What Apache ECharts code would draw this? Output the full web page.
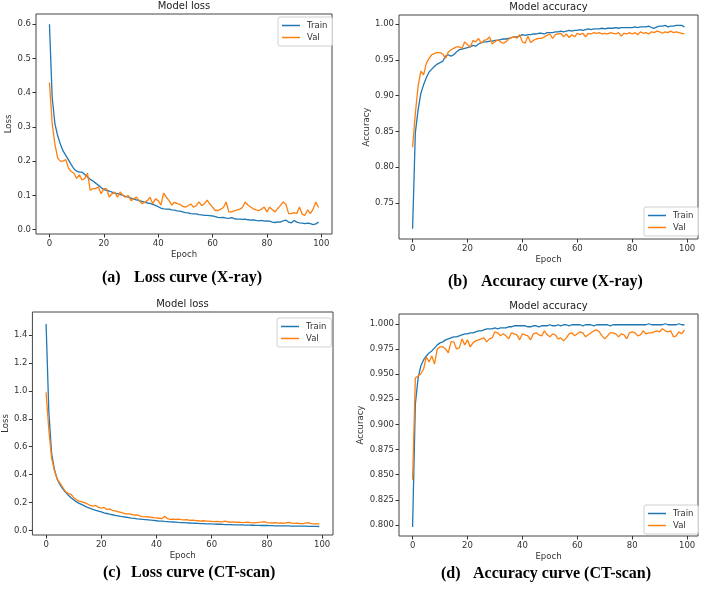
<!DOCTYPE html>
<html>
<head>
<meta charset="utf-8">
<script src="https://cdn.jsdelivr.net/npm/echarts@6/dist/echarts.min.js"></script>
<style>
  html, body { margin: 0; padding: 0; background: #fff; }
  #chart { width: 702px; height: 589px; }
</style>
</head>
<body>
<div id="chart"></div>
<script>
// tick labels
const epochTicks = [0, 20, 40, 60, 80, 100];
const xrayLossTicks = [0, 0.1, 0.2, 0.3, 0.4, 0.5, 0.6];
const xrayAccTicks = [0.75, 0.80, 0.85, 0.90, 0.95, 1.00];
const ctLossTicks = [0, 0.2, 0.4, 0.6, 0.8, 1.0, 1.2, 1.4];
const ctAccTicks = [0.800, 0.825, 0.850, 0.875, 0.900, 0.925, 0.950, 0.975, 1.000];

// (a) X-ray loss, epochs 0..99
const xrayTrainLoss = [
  0.600, 0.387, 0.310, 0.275, 0.250, 0.230, 0.217, 0.204, 0.190, 0.178,
  0.171, 0.168, 0.168, 0.161, 0.154, 0.147, 0.142, 0.136, 0.130, 0.123,
  0.117, 0.115, 0.113, 0.110, 0.107, 0.105, 0.103, 0.100, 0.097, 0.095,
  0.092, 0.089, 0.087, 0.085, 0.083, 0.080, 0.078, 0.077, 0.074, 0.071,
  0.067, 0.063, 0.061, 0.060, 0.060, 0.058, 0.057, 0.055, 0.054, 0.052,
  0.050, 0.049, 0.047, 0.046, 0.046, 0.044, 0.043, 0.042, 0.042, 0.041,
  0.040, 0.038, 0.036, 0.035, 0.036, 0.034, 0.033, 0.035, 0.032, 0.031,
  0.031, 0.030, 0.031, 0.029, 0.028, 0.029, 0.027, 0.026, 0.027, 0.025,
  0.026, 0.025, 0.022, 0.021, 0.023, 0.022, 0.026, 0.028, 0.022, 0.020,
  0.027, 0.022, 0.020, 0.019, 0.018, 0.019, 0.018, 0.015, 0.017, 0.022
];
const xrayValLoss = [
  0.430, 0.310, 0.250, 0.210, 0.200, 0.200, 0.205, 0.180, 0.170, 0.165,
  0.150, 0.160, 0.145, 0.150, 0.165, 0.115, 0.120, 0.120, 0.125, 0.105,
  0.120, 0.120, 0.095, 0.105, 0.110, 0.095, 0.110, 0.100, 0.095, 0.100,
  0.085, 0.090, 0.095, 0.085, 0.076, 0.080, 0.085, 0.095, 0.076, 0.090,
  0.085, 0.072, 0.107, 0.095, 0.085, 0.072, 0.080, 0.076, 0.074, 0.068,
  0.066, 0.070, 0.075, 0.066, 0.070, 0.081, 0.070, 0.076, 0.086, 0.075,
  0.066, 0.056, 0.056, 0.060, 0.065, 0.081, 0.052, 0.052, 0.055, 0.058,
  0.060, 0.065, 0.081, 0.072, 0.066, 0.061, 0.058, 0.056, 0.060, 0.066,
  0.052, 0.066, 0.058, 0.052, 0.062, 0.071, 0.081, 0.074, 0.047, 0.047,
  0.050, 0.047, 0.066, 0.045, 0.042, 0.058, 0.047, 0.060, 0.081, 0.065
];

// (b) X-ray accuracy
const xrayTrainAcc = [
  0.714, 0.848, 0.880, 0.903, 0.915, 0.925, 0.933, 0.937, 0.941, 0.944,
  0.946, 0.948, 0.955, 0.957, 0.955, 0.957, 0.961, 0.964, 0.965, 0.966,
  0.967, 0.968, 0.970, 0.969, 0.972, 0.974, 0.975, 0.975, 0.976, 0.976,
  0.977, 0.977, 0.978, 0.979, 0.979, 0.980, 0.981, 0.982, 0.982, 0.983,
  0.985, 0.984, 0.985, 0.985, 0.986, 0.986, 0.987, 0.987, 0.986, 0.988,
  0.988, 0.988, 0.989, 0.989, 0.990, 0.989, 0.990, 0.991, 0.990, 0.991,
  0.991, 0.992, 0.991, 0.992, 0.993, 0.992, 0.993, 0.993, 0.993, 0.994,
  0.993, 0.994, 0.994, 0.994, 0.995, 0.994, 0.995, 0.995, 0.995, 0.995,
  0.995, 0.996, 0.995, 0.996, 0.996, 0.996, 0.997, 0.995, 0.994, 0.996,
  0.997, 0.997, 0.998, 0.996, 0.997, 0.997, 0.998, 0.998, 0.998, 0.996
];
const xrayValAcc = [
  0.828, 0.875, 0.913, 0.934, 0.929, 0.945, 0.952, 0.957, 0.959, 0.960,
  0.960, 0.958, 0.952, 0.961, 0.964, 0.966, 0.968, 0.968, 0.966, 0.975,
  0.971, 0.968, 0.977, 0.975, 0.980, 0.973, 0.977, 0.978, 0.982, 0.972,
  0.975, 0.978, 0.975, 0.973, 0.975, 0.979, 0.981, 0.982, 0.980, 0.985,
  0.975, 0.973, 0.983, 0.974, 0.977, 0.979, 0.980, 0.980, 0.982, 0.984,
  0.986, 0.980, 0.985, 0.986, 0.987, 0.982, 0.986, 0.981, 0.985, 0.982,
  0.987, 0.985, 0.987, 0.982, 0.987, 0.986, 0.988, 0.987, 0.988, 0.986,
  0.987, 0.986, 0.988, 0.987, 0.986, 0.988, 0.983, 0.987, 0.986, 0.988,
  0.986, 0.988, 0.985, 0.989, 0.987, 0.988, 0.986, 0.989, 0.988, 0.990,
  0.989, 0.987, 0.989, 0.988, 0.990, 0.988, 0.989, 0.988, 0.987, 0.986
];

// (c) CT-scan loss
const ctTrainLoss = [
  1.480, 0.850, 0.550, 0.440, 0.370, 0.330, 0.300, 0.275, 0.255, 0.235,
  0.220, 0.205, 0.195, 0.185, 0.175, 0.166, 0.158, 0.151, 0.145, 0.139,
  0.133, 0.127, 0.122, 0.117, 0.113, 0.109, 0.105, 0.101, 0.098, 0.095,
  0.092, 0.089, 0.087, 0.084, 0.082, 0.080, 0.078, 0.076, 0.074, 0.072,
  0.070, 0.068, 0.067, 0.065, 0.064, 0.062, 0.061, 0.060, 0.058, 0.057,
  0.056, 0.055, 0.054, 0.053, 0.052, 0.051, 0.050, 0.049, 0.048, 0.048,
  0.047, 0.046, 0.045, 0.045, 0.044, 0.043, 0.043, 0.042, 0.041, 0.041,
  0.040, 0.040, 0.039, 0.039, 0.038, 0.038, 0.037, 0.037, 0.036, 0.036,
  0.036, 0.035, 0.035, 0.034, 0.034, 0.034, 0.033, 0.033, 0.033, 0.032,
  0.032, 0.032, 0.031, 0.031, 0.031, 0.030, 0.030, 0.030, 0.030, 0.029
];
const ctValLoss = [
  0.990, 0.720, 0.520, 0.430, 0.370, 0.340, 0.310, 0.280, 0.265, 0.260,
  0.235, 0.220, 0.210, 0.205, 0.200, 0.190, 0.180, 0.175, 0.180, 0.165,
  0.160, 0.165, 0.150, 0.155, 0.145, 0.140, 0.135, 0.130, 0.125, 0.120,
  0.120, 0.115, 0.110, 0.112, 0.105, 0.100, 0.098, 0.100, 0.095, 0.092,
  0.090, 0.088, 0.086, 0.103, 0.085, 0.080, 0.082, 0.080, 0.081, 0.078,
  0.077, 0.078, 0.073, 0.075, 0.072, 0.070, 0.068, 0.070, 0.067, 0.068,
  0.065, 0.064, 0.066, 0.062, 0.063, 0.067, 0.061, 0.060, 0.062, 0.059,
  0.060, 0.057, 0.058, 0.060, 0.056, 0.055, 0.057, 0.058, 0.060, 0.064,
  0.057, 0.055, 0.054, 0.056, 0.053, 0.054, 0.052, 0.055, 0.058, 0.053,
  0.051, 0.052, 0.050, 0.049, 0.053, 0.057, 0.050, 0.048, 0.047, 0.048
];

// (d) CT-scan accuracy
const ctTrainAcc = [
  0.798, 0.920, 0.946, 0.958, 0.964, 0.968, 0.971, 0.973, 0.976, 0.979,
  0.981, 0.982, 0.984, 0.985, 0.986, 0.987, 0.987, 0.988, 0.989, 0.990,
  0.990, 0.991, 0.991, 0.992, 0.993, 0.993, 0.994, 0.995, 0.995, 0.995,
  0.996, 0.995, 0.996, 0.996, 0.996, 0.997, 0.997, 0.998, 0.998, 0.998,
  0.998, 0.998, 0.997, 0.997, 0.998, 0.998, 0.997, 0.998, 0.998, 0.998,
  0.999, 0.998, 0.998, 0.999, 0.998, 0.999, 0.999, 0.998, 0.999, 0.999,
  0.999, 0.999, 0.998, 0.999, 0.999, 0.999, 0.998, 0.999, 0.999, 0.999,
  0.999, 0.999, 0.998, 0.999, 0.999, 0.999, 0.999, 0.999, 0.999, 0.999,
  0.999, 0.999, 0.999, 0.999, 0.999, 0.999, 1.000, 0.999, 0.999, 0.999,
  0.999, 0.999, 1.000, 0.999, 0.999, 0.999, 0.999, 1.000, 0.999, 0.999
];
const ctValAcc = [
  0.845, 0.946, 0.948, 0.950, 0.955, 0.967, 0.962, 0.968, 0.960, 0.975,
  0.977, 0.977, 0.975, 0.971, 0.982, 0.982, 0.975, 0.976, 0.985, 0.979,
  0.984, 0.977, 0.981, 0.983, 0.984, 0.985, 0.986, 0.982, 0.985, 0.986,
  0.992, 0.991, 0.988, 0.990, 0.988, 0.985, 0.991, 0.990, 0.989, 0.984,
  0.990, 0.989, 0.988, 0.984, 0.990, 0.991, 0.989, 0.988, 0.993, 0.989,
  0.987, 0.990, 0.989, 0.985, 0.986, 0.983, 0.986, 0.990, 0.991, 0.988,
  0.990, 0.992, 0.991, 0.987, 0.989, 0.991, 0.993, 0.994, 0.992, 0.988,
  0.985, 0.988, 0.991, 0.991, 0.990, 0.987, 0.990, 0.989, 0.985, 0.991,
  0.992, 0.991, 0.988, 0.989, 0.993, 0.990, 0.991, 0.991, 0.992, 0.993,
  0.992, 0.995, 0.993, 0.992, 0.993, 0.987, 0.988, 0.992, 0.990, 0.994
];

const BLUE = '#1f77b4';
const ORANGE = '#ff7f0e';
const AXIS_FONT = '"DejaVu Sans", sans-serif';

const panels = [
  { grid: { left: 36, top: 14, width: 296, height: 220 }, yMin: -0.0126, yMax: 0.630,
    ticks: xrayLossTicks, dec: 1, yName: 'Loss', yGap: 20, title: 'Model loss',
    legend: { left: 278, top: 17 }, train: xrayTrainLoss, val: xrayValLoss },
  { grid: { left: 399, top: 15, width: 299, height: 224 }, yMin: 0.6998, yMax: 1.0125,
    ticks: xrayAccTicks, dec: 2, yName: 'Accuracy', yGap: 27, title: 'Model accuracy',
    legend: { left: 644, top: 207 }, train: xrayTrainAcc, val: xrayValAcc },
  { grid: { left: 32, top: 312, width: 301, height: 223 }, yMin: -0.032, yMax: 1.565,
    ticks: ctLossTicks, dec: 1, yName: 'Loss', yGap: 20, title: 'Model loss',
    legend: { left: 277, top: 318 }, train: ctTrainLoss, val: ctValLoss },
  { grid: { left: 399, top: 314, width: 299, height: 222 }, yMin: 0.789, yMax: 1.0097,
    ticks: ctAccTicks, dec: 3, yName: 'Accuracy', yGap: 30, title: 'Model accuracy',
    legend: { left: 644, top: 505 }, train: ctTrainAcc, val: ctValAcc }
];

const captions = [
  { tag: '(a)', text: 'Loss curve (X-ray)', x: 102, x2: 134, y: 278 },
  { tag: '(b)', text: 'Accuracy curve (X-ray)', x: 448, x2: 481, y: 282 },
  { tag: '(c)', text: 'Loss curve (CT-scan)', x: 103, x2: 131, y: 573 },
  { tag: '(d)', text: 'Accuracy curve (CT-scan)', x: 441, x2: 473, y: 574 }
];

const axisText = { color: '#333', fontSize: 8.5, fontFamily: AXIS_FONT };

const option = {
  animation: false,
  backgroundColor: '#fff',
  grid: panels.map(p => Object.assign({
    show: true, borderColor: '#444', borderWidth: 1, backgroundColor: 'transparent'
  }, p.grid)),
  xAxis: panels.map((p, i) => ({
    type: 'value', gridIndex: i, min: -4.95, max: 103.95,
    name: 'Epoch', nameLocation: 'middle', nameGap: 16, nameTextStyle: axisText,
    axisLine: { show: false, onZero: false },
    axisTick: { show: true, length: 3.5, customValues: epochTicks, lineStyle: { color: '#333' } },
    axisLabel: Object.assign({ customValues: epochTicks, margin: 5 }, axisText),
    splitLine: { show: false }
  })),
  yAxis: panels.map((p, i) => ({
    type: 'value', gridIndex: i, min: p.yMin, max: p.yMax,
    name: p.yName, nameLocation: 'middle', nameGap: p.yGap, nameTextStyle: axisText,
    axisLine: { show: false, onZero: false },
    axisTick: { show: true, length: 3.5, customValues: p.ticks, lineStyle: { color: '#333' } },
    axisLabel: Object.assign({
      customValues: p.ticks, margin: 5,
      formatter: v => Number(v).toFixed(p.dec)
    }, axisText),
    splitLine: { show: false }
  })),
  legend: panels.map(p => ({
    orient: 'vertical', left: p.legend.left, top: p.legend.top,
    data: ['Train', 'Val'], icon: 'rect', itemWidth: 18, itemHeight: 1.5, itemGap: 3,
    padding: [4, 5, 4, 4], borderColor: '#d0d0d0', borderWidth: 1, borderRadius: 2,
    backgroundColor: 'rgba(255,255,255,0.85)',
    textStyle: { color: '#333', fontSize: 8.5, fontFamily: AXIS_FONT, padding: [0, 0, 0, 2] },
    selectedMode: false
  })),
  series: [],
  graphic: []
};

panels.forEach((p, i) => {
  option.series.push({
    name: 'Train', type: 'line', xAxisIndex: i, yAxisIndex: i, showSymbol: false,
    data: p.train.map((v, e) => [e, v]), lineStyle: { color: BLUE, width: 1.3 },
    itemStyle: { color: BLUE }
  });
  option.series.push({
    name: 'Val', type: 'line', xAxisIndex: i, yAxisIndex: i, showSymbol: false,
    data: p.val.map((v, e) => [e, v]), lineStyle: { color: ORANGE, width: 1.3 },
    itemStyle: { color: ORANGE }
  });
  option.graphic.push({
    type: 'text', x: p.grid.left + p.grid.width / 2, y: p.grid.top - 8,
    style: { text: p.title, font: '10px ' + AXIS_FONT, fill: '#222',
      textAlign: 'center', textVerticalAlign: 'middle' }
  });
});

captions.forEach(c => {
  const font = 'bold 16px "Liberation Serif", serif';
  option.graphic.push({
    type: 'text', x: c.x, y: c.y,
    style: { text: c.tag, font: font, fill: '#000', textAlign: 'left', textVerticalAlign: 'middle' }
  });
  option.graphic.push({
    type: 'text', x: c.x2, y: c.y,
    style: { text: c.text, font: font, fill: '#000', textAlign: 'left', textVerticalAlign: 'middle' }
  });
});

const chart = echarts.init(document.getElementById('chart'), null, { renderer: 'canvas' });
chart.setOption(option);
</script>
</body>
</html>
